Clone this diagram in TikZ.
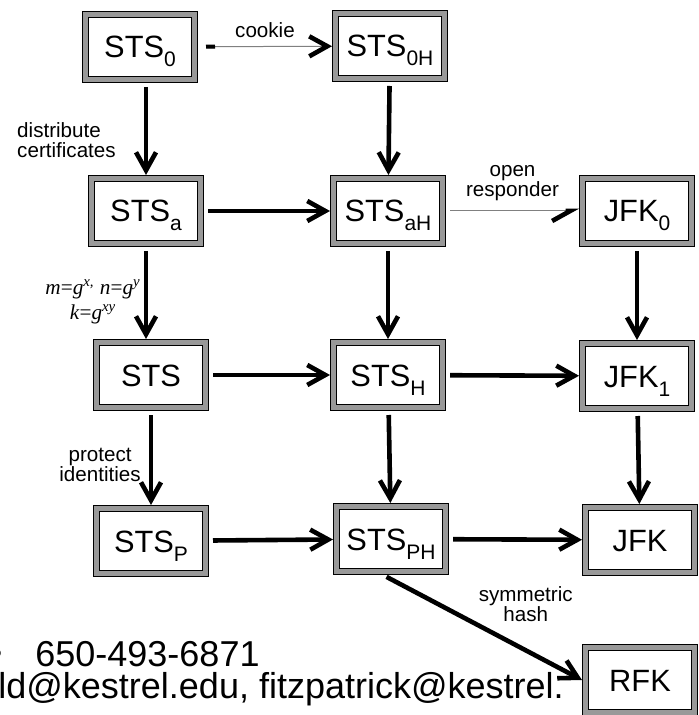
\documentclass[tikz,border=0pt]{standalone}
\usepackage{fontspec}
\setmainfont{Liberation Sans}
\newfontfamily\timesfont{Liberation Serif}
\usepackage{tikz}
\usetikzlibrary{arrows.meta, positioning}

% lowered index in the box names
\newcommand{\idx}[1]{\raisebox{-4.5pt}[0pt][0pt]{\fontsize{10.5}{12}\selectfont #1}}

\begin{document}
\begin{tikzpicture}[
    x=0.5pt, y=-0.5pt,
    box/.style={draw, double=black!40, double distance=2.3pt, line width=0.6pt,
        fill=white, minimum width=54.5pt, minimum height=32.5pt, inner sep=0pt,
        outer sep=1.75pt, text height=11pt, text depth=0pt,
        font=\fontsize{15.4}{18}\selectfont},
    lbl/.style={inner sep=0pt, align=center, font=\fontsize{10.3}{10}\selectfont},
    big/.style={inner sep=0pt, anchor=base west, font=\fontsize{18}{18}\selectfont},
    edge/.style={-{Straight Barb[length=9pt, width=10pt]}, line width=2.3pt, shorten <=2pt},
    weak/.style={draw=gray, line width=0.5pt, shorten <=2pt}
]
    \useasboundingbox (0,0) rectangle (698,715);
    \clip (0,0) rectangle (698,715);

    % slide text behind the diagram
    \node[big, anchor=base] (dot) at (-4,665) {•};
    \node[big] (phone) at (35,666) {650-493-6871};
    \node[big] (mail) at (-2,698) {ld@kestrel.edu, fitzpatrick@kestrel.};

    % Protocols
    \node[box] (sts0) at (140,47) {STS\idx{0}};
    \node[box] (sts0h) at (390,46) {STS\idx{0H}};
    \node[box] (stsa) at (146,211) {STS\idx{a}};
    \node[box] (stsah) at (388,211) {STS\idx{aH}};
    \node[box] (jfk0) at (637,211) {JFK\idx{0}};
    \node[box] (sts) at (151,375) {STS};
    \node[box] (stsh) at (388,375) {STS\idx{H}};
    \node[box] (jfk1) at (637,376) {JFK\idx{1}};
    \node[box] (stsp) at (151,541) {STS\idx{P}};
    \node[box] (stsph) at (391,539) {STS\idx{PH}};
    \node[box] (jfk) at (640,540) {JFK};
    \node[box] (rfk) at (640,680) {RFK};

    % Left column
    \draw[edge] (stsa.north |- sts0.south) -- (stsa.north)
        node[pos=0.62, left=14pt, lbl, align=left] {distribute\\certificates};
    \draw[edge] (stsa.south) -- (stsa.south |- sts.north)
        node[pos=0.6, left=1.5pt, lbl, font=\timesfont\fontsize{10.6}{12.5}\selectfont]
        {\textit{m}=\textit{g}\textsuperscript{\textit{x,}} \textit{n}=\textit{g}\textsuperscript{\textit{y}}\\
         \textit{k}=\textit{g}\textsuperscript{\textit{xy}}};
    \draw[edge] (sts.south) -- (sts.south |- stsp.north)
        node[pos=0.57, left=4pt, lbl] {protect\\identities};

    % Middle and right columns
    \draw[edge] (sts0h) -- (stsah);
    \draw[edge] (stsah) -- (stsh);
    \draw[edge] (stsh) -- (stsph);
    \draw[edge] (jfk0) -- (jfk1);
    \draw[edge] (jfk1) -- (jfk);

    % Rows
    \draw[edge] (stsa) -- (stsah);
    \draw[edge] (sts) -- (stsh);
    \draw[edge] (stsh) -- (jfk1);
    \draw[edge] (stsp) -- (stsph);
    \draw[edge] (stsph) -- (jfk);

    % Thin steps
    \draw[weak, shorten <=4pt,
        {Rectangle[length=4.5pt, width=2pt, black]}-{Straight Barb[length=9pt, width=10pt, black, line width=2.3pt]}]
        (sts0) -- (sts0h) node[midway, above=4pt, lbl] {cookie};
    \draw[weak, -{Straight Barb[harpoon, swap, length=9pt, width=10pt, black, line width=2.3pt]}]
        (stsah) -- (jfk0) node[midway, above=5pt, lbl] {open\\responder};

    % To RFK
    \draw[edge] ([xshift=-4pt]stsph.south) -- (rfk.west)
        node[pos=0.47, anchor=south west, lbl] {symmetric\\hash};
\end{tikzpicture}
\end{document}
